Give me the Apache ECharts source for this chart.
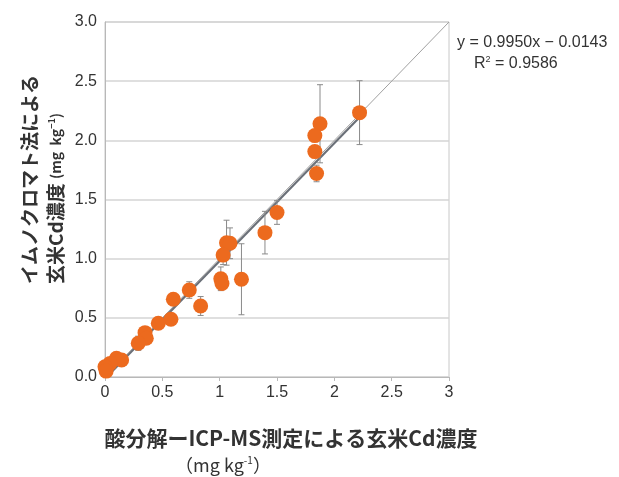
<!DOCTYPE html>
<html>
<head>
<meta charset="utf-8">
<script src="https://cdn.jsdelivr.net/npm/echarts@6/dist/echarts.min.js"></script>
<style>
  html, body { margin: 0; padding: 0; background: #fff; }
  #chart { width: 619px; height: 477px; }
</style>
</head>
<body>
<div id="chart"></div>
<script>
// 酸分解-ICP-MS (x) vs イムノクロマト法 (y)
const xValues = [2.22, 1.875, 1.83, 1.83, 1.845, 1.50, 1.395, 1.19, 1.06, 1.09, 1.03, 1.01, 1.02, 0.834, 0.735, 0.596, 0.575, 0.465, 0.349, 0.36, 0.29, 0.10, 0.145, 0.044, 0.0, 0.01];
const yValues = [2.234, 2.14, 2.04, 1.905, 1.72, 1.39, 1.22, 0.826, 1.135, 1.13, 1.03, 0.83, 0.79, 0.60, 0.735, 0.657, 0.488, 0.454, 0.375, 0.327, 0.285, 0.158, 0.144, 0.115, 0.087, 0.05];
// 標準偏差 (0 = 表示なし)
const yErrors = [0.27, 0.33, 0, 0, 0.07, 0.1, 0.18, 0.3, 0.19, 0.13, 0.08, 0.1, 0, 0.08, 0.07, 0, 0, 0.03, 0.05, 0.05, 0.06, 0, 0, 0, 0, 0];

const slope = 0.9950;
const intercept = -0.0143;
const fitRange = [0, 2.22];
const tickLabelsY = ['0.0', '0.5', '1.0', '1.5', '2.0', '2.5', '3.0'];

const points = xValues.map((x, i) => [x, yValues[i]]);
const errData = xValues.map((x, i) => [x, yValues[i], yErrors[i]]).filter(d => d[2] > 0);
const fitLine = fitRange.map(x => [x, slope * x + intercept]);

const font = '"Noto Sans CJK JP", "Noto Sans", sans-serif';
const latin = '"Liberation Sans", Arial, sans-serif';
const chart = echarts.init(document.getElementById('chart'));

chart.setOption({
  animation: false,
  grid: {
    left: 105, right: 170, top: 22, bottom: 100,
    show: true, borderColor: '#c8c8c8', borderWidth: 1
  },
  xAxis: {
    type: 'value', min: 0, max: 3, interval: 0.5,
    axisLine: { show: true, lineStyle: { color: '#b8b8b8' } },
    axisTick: { show: true, length: 4, lineStyle: { color: '#b8b8b8' } },
    splitLine: { show: false },
    axisLabel: { color: '#333', fontSize: 16, fontFamily: latin, margin: 8 }
  },
  yAxis: {
    type: 'value', min: 0, max: 3, interval: 0.5,
    axisLine: { show: true, lineStyle: { color: '#b8b8b8' } },
    axisTick: { show: false },
    splitLine: { show: true, lineStyle: { color: '#d4d4d4', width: 1.5 } },
    axisLabel: {
      color: '#333', fontSize: 16, fontFamily: latin, margin: 8,
      formatter: v => tickLabelsY[Math.round(v * 2)]
    }
  },
  series: [
    {
      type: 'line', data: [[0, 0], [3, 3]], symbol: 'none',
      lineStyle: { color: '#a0a0a0', width: 1 }, z: 1
    },
    {
      type: 'line', data: fitLine, symbol: 'none',
      lineStyle: { color: '#6b7078', width: 2.2 }, z: 2
    },
    {
      type: 'custom', z: 3,
      data: errData,
      renderItem: function (params, api) {
        const x = api.value(0), y = api.value(1), e = api.value(2);
        const top = api.coord([x, y + e]);
        const bot = api.coord([x, y - e]);
        const cap = 3;
        const st = { stroke: '#8a8a8a', lineWidth: 1 };
        return {
          type: 'group',
          children: [
            { type: 'line', shape: { x1: top[0], y1: top[1], x2: bot[0], y2: bot[1] }, style: st },
            { type: 'line', shape: { x1: top[0] - cap, y1: top[1], x2: top[0] + cap, y2: top[1] }, style: st },
            { type: 'line', shape: { x1: bot[0] - cap, y1: bot[1], x2: bot[0] + cap, y2: bot[1] }, style: st }
          ]
        };
      }
    },
    {
      type: 'scatter', data: points, symbol: 'circle', symbolSize: 15,
      itemStyle: { color: '#ec6a1e', opacity: 1 }, z: 4
    }
  ],
  graphic: [
    {
      type: 'text', left: 457, top: 35,
      style: { text: 'y = 0.9950x − 0.0143', fontSize: 16, fontFamily: latin, fill: '#333' }
    },
    {
      type: 'text', left: 474, top: 55,
      style: {
        text: 'R{sup|2} = 0.9586', fontSize: 16, fontFamily: latin, fill: '#333',
        rich: { sup: { fontSize: 9, fontFamily: latin, verticalAlign: 'top', fill: '#333', padding: [0, 0, 8, 0] } }
      }
    },
    {
      type: 'text', x: 30, y: 284, rotation: Math.PI / 2,
      style: {
        text: 'イムノクロマト法による', fontSize: 19, fontWeight: 'bold',
        fontFamily: font, fill: '#333', verticalAlign: 'middle', align: 'left'
      }
    },
    {
      type: 'text', x: 56, y: 284, rotation: Math.PI / 2,
      style: {
        text: '玄米Cd濃度 {s|(mg  kg}{sup|−1}{s|)}', fontSize: 19, fontWeight: 'bold',
        fontFamily: font, fill: '#333', verticalAlign: 'middle', align: 'left',
        rich: {
          s: { fontSize: 14, fontWeight: 'bold', fontFamily: font, fill: '#333' },
          sup: { fontSize: 9, fontWeight: 'bold', fontFamily: font, fill: '#333', padding: [0, 0, 8, 0] }
        }
      }
    },
    {
      type: 'text', x: 291, y: 438,
      style: {
        text: '酸分解ーICP-MS測定による玄米Cd濃度', fontSize: 21, fontWeight: 'bold',
        fontFamily: font, fill: '#333', align: 'center', verticalAlign: 'middle'
      }
    },
    {
      type: 'text', x: 223, y: 465,
      style: {
        text: '（mg kg{sup|-1}）', fontSize: 18, fontFamily: font, fill: '#333',
        align: 'center', verticalAlign: 'middle',
        rich: { sup: { fontSize: 10, fontFamily: font, fill: '#333', padding: [0, 0, 10, 0] } }
      }
    }
  ]
});
</script>
</body>
</html>
